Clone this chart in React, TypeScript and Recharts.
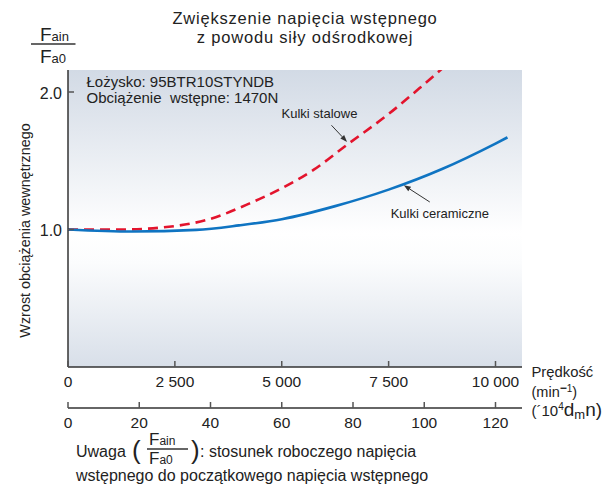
import React from "react"
import { CartesianGrid, Line, LineChart, ReferenceLine, XAxis, YAxis } from "recharts"

// prędkość (min^-1) -> Fain/Fa0
const steelRpm = [0, 1250, 2500, 3250, 4250, 5000, 5750, 6500, 7500, 8250, 8750]
const steelRatio = [1.0, 1.0, 1.025, 1.07, 1.19, 1.3, 1.435, 1.61, 1.84, 2.035, 2.17]
const ceramicRpm = [0, 1500, 3000, 4000, 5000, 6250, 7500, 8750, 10000, 10280]
const ceramicRatio = [1.0, 0.985, 0.997, 1.03, 1.075, 1.17, 1.29, 1.44, 1.625, 1.67]

const rpmTicks = [0, 2500, 5000, 7500, 10000]
const dmnTicks = [0, 20, 40, 60, 80, 100, 120]
const ratioTicks = [1.0, 2.0]

const RPM_MAX = 10620
const RATIO_MAX = 2.16
// 120 x 10^4 dmn odpowiada 10 000 min^-1
const DMN_PER_RPM = 120 / 10000

const steelData = steelRpm.map((rpm, i) => ({ rpm, ratio: steelRatio[i] }))
const ceramicData = ceramicRpm.map((rpm, i) => ({ rpm, ratio: ceramicRatio[i] }))
const dmnTickRpm = dmnTicks.map((d) => d / DMN_PER_RPM)

const INK = "#222"
const FONT = "'Liberation Sans', Arial, sans-serif"

const fmtThousands = (v: number) => String(v).replace(/\B(?=(\d{3})+(?!\d))/g, " ")
const fmtDmn = (v: number) => String(Math.round(v * DMN_PER_RPM))

const BottomTick = (props: any) => {
  const { x, y, payload, fmt } = props
  return (
    <g>
      <line x1={x} y1={y} x2={x} y2={y - 6} stroke="#555" strokeWidth={1.5} />
      <text x={x} y={y + 14} textAnchor="middle" dominantBaseline="central" fontSize={15.5} fill={INK} fontFamily={FONT}>
        {fmt(payload.value)}
      </text>
    </g>
  )
}

const LeftTick = (props: any) => {
  const { x, y, payload } = props
  return (
    <g>
      <line x1={x} y1={y} x2={x + 6} y2={y} stroke="#555" strokeWidth={1.5} />
      <text x={x - 6} y={y + 1} textAnchor="end" dominantBaseline="central" fontSize={16} fill={INK} fontFamily={FONT}>
        {Number(payload.value).toFixed(1)}
      </text>
    </g>
  )
}

const arrowShape = (label: string, dx: number, dy: number) => (props: any) => {
  const { x1, y1, x2, y2 } = props
  const ang = Math.atan2(y2 - y1, x2 - x1)
  const len = 7
  const w = 2.6
  const bx = x2 - len * Math.cos(ang)
  const by = y2 - len * Math.sin(ang)
  const px = -Math.sin(ang) * w
  const py = Math.cos(ang) * w
  return (
    <g>
      <line x1={x1} y1={y1} x2={bx} y2={by} stroke="#333" strokeWidth={1} />
      <polygon points={`${x2},${y2} ${bx + px},${by + py} ${bx - px},${by - py}`} fill="#333" />
      <text x={x1 + dx} y={y1 + dy} textAnchor="middle" fontSize={13} fill={INK} fontFamily={FONT}>
        {label}
      </text>
    </g>
  )
}

export default function App() {
  return (
    <div style={{ position: "absolute", left: 0, top: 0, width: 604, height: 488, background: "#fff", fontFamily: FONT }}>
      <LineChart width={604} height={488} margin={{ top: 70, right: 82, bottom: 60, left: 0 }}>
        <defs>
          <linearGradient id="plotBg" x1="0" y1="0" x2="0" y2="1">
            <stop offset="0" stopColor="#d2dae5" />
            <stop offset="0.55" stopColor="#ffffff" />
            <stop offset="0.65" stopColor="#fbfcfd" />
            <stop offset="1" stopColor="#d8dfe9" />
          </linearGradient>
        </defs>
        <CartesianGrid horizontal={false} vertical={false} fill="url(#plotBg)" stroke="none" />
        <XAxis
          dataKey="rpm"
          type="number"
          domain={[0, RPM_MAX]}
          ticks={rpmTicks}
          allowDataOverflow
          height={41}
          tickSize={0}
          tickMargin={0}
          tickLine={false}
          axisLine={{ stroke: "#333", strokeWidth: 1.5 }}
          tick={<BottomTick fmt={fmtThousands} />}
          interval={0}
        />
        <XAxis
          xAxisId="dmn"
          dataKey="rpm"
          type="number"
          domain={[0, RPM_MAX]}
          ticks={dmnTickRpm}
          allowDataOverflow
          height={20}
          tickSize={0}
          tickMargin={0}
          tickLine={false}
          axisLine={{ stroke: "#333", strokeWidth: 1.5 }}
          tick={<BottomTick fmt={fmtDmn} />}
          interval={0}
        />
        <YAxis
          type="number"
          domain={[0, RATIO_MAX]}
          ticks={ratioTicks}
          allowDataOverflow
          width={68}
          tickSize={0}
          tickMargin={0}
          tickLine={false}
          axisLine={{ stroke: "#333", strokeWidth: 1.5 }}
          tick={<LeftTick />}
          interval={0}
        />
        <Line
          data={steelData}
          dataKey="ratio"
          type="monotone"
          stroke="#e3142d"
          strokeWidth={2.6}
          strokeDasharray="10 6"
          dot={false}
          activeDot={false}
          isAnimationActive={false}
        />
        <Line
          data={ceramicData}
          dataKey="ratio"
          type="monotone"
          stroke="#0f74c2"
          strokeWidth={2.6}
          dot={false}
          activeDot={false}
          isAnimationActive={false}
        />
        {/* ta sama seria na drugiej skali (10^4 dmn), niewidoczna – tylko by oś miała dane */}
        <Line
          xAxisId="dmn"
          data={ceramicData}
          dataKey="ratio"
          stroke="none"
          dot={false}
          activeDot={false}
          legendType="none"
          isAnimationActive={false}
        />
        <ReferenceLine
          segment={[
            { x: 6163, y: 1.758 },
            { x: 6528, y: 1.637 },
          ]}
          shape={arrowShape("Kulki stalowe", -12, -7)}
        />
        <ReferenceLine
          segment={[
            { x: 8463, y: 1.2 },
            { x: 7855, y: 1.322 },
          ]}
          shape={arrowShape("Kulki ceramiczne", 10, 16)}
        />
      </LineChart>

      <svg width={604} height={488} style={{ position: "absolute", left: 0, top: 0, pointerEvents: "none" }} fontFamily={FONT} fill={INK}>
        <text x={305} y={23.5} textAnchor="middle" fontSize={16.5} letterSpacing={0.8}>
          Zwiększenie napięcia wstępnego
        </text>
        <text x={305} y={42.5} textAnchor="middle" fontSize={16.5} letterSpacing={0.8}>
          z powodu siły odśrodkowej
        </text>

        <text x={40} y={40.5} fontSize={19}>
          F<tspan fontSize={13}>ain</tspan>
        </text>
        <line x1={31} y1={44} x2={75.5} y2={44} stroke="#333" strokeWidth={1.3} />
        <text x={40} y={63} fontSize={19}>
          F<tspan fontSize={13}>a0</tspan>
        </text>

        <text x={86.5} y={87} fontSize={15}>
          Łożysko: 95BTR10STYNDB
        </text>
        <text x={86.5} y={102.7} fontSize={15} style={{ whiteSpace: "pre" }}>
          {"Obciążenie  wstępne: 1470N"}
        </text>

        <text transform="translate(29.5 230.5) rotate(-90)" textAnchor="middle" fontSize={14.4}>
          Wzrost obciążenia wewnętrznego
        </text>

        <text x={531.5} y={377} fontSize={14.8}>
          Prędkość
        </text>
        <text x={531.5} y={397} fontSize={14.5}>
          (min<tspan dy={-5} fontSize={12} fontWeight="bold">−</tspan>
          <tspan fontSize={10}>1</tspan>
          <tspan dy={5}>)</tspan>
        </text>
        <text x={531.5} y={415.5} fontSize={15}>
          (´10<tspan dy={-6} fontSize={10}>4</tspan>
          <tspan dy={6} fontSize={19}>d</tspan>
          <tspan dy={3} fontSize={13}>m</tspan>
          <tspan dy={-3} fontSize={19}>n)</tspan>
        </text>

        <text x={76} y={457} fontSize={16}>
          Uwaga
        </text>
        <text x={132} y={459} fontSize={26}>
          (
        </text>
        <text x={149} y={445} fontSize={17}>
          F<tspan fontSize={12}>ain</tspan>
        </text>
        <line x1={147} y1={449} x2={188} y2={449} stroke="#333" strokeWidth={1.3} />
        <text x={149} y={464} fontSize={17}>
          F<tspan fontSize={12}>a0</tspan>
        </text>
        <text x={191} y={459} fontSize={26}>
          )
        </text>
        <text x={200} y={457} fontSize={16}>
          : stosunek roboczego napięcia
        </text>
        <text x={76} y={481} fontSize={16}>
          wstępnego do początkowego napięcia wstępnego
        </text>
      </svg>
    </div>
  )
}
